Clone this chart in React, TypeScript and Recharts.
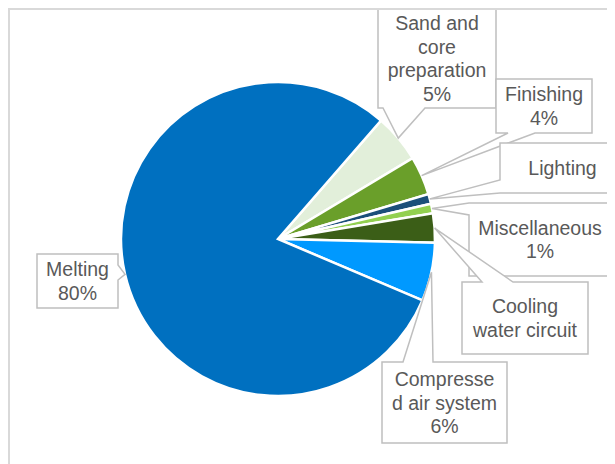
import React from 'react';
import { PieChart, Pie, Cell } from 'recharts';

// Energy use by process area (share of total, %)
const categories = [
  'Sand and core preparation',
  'Finishing',
  'Lighting',
  'Miscellaneous',
  'Cooling water circuit',
  'Compressed air system',
  'Melting',
];
const shares = [5, 4, 1, 1, 3, 6, 80];
const sliceColors = ['#E2EFDA', '#6A9F2A', '#1B4F7A', '#92D050', '#3B5E17', '#0099FF', '#0070C0'];

// wrapped label lines, and whether the percentage is shown underneath
const labelLines = [
  ['Sand and', 'core', 'preparation'],
  ['Finishing'],
  ['Lighting'],
  ['Miscellaneous'],
  ['Cooling', 'water circuit'],
  ['Compresse', 'd air system'],
  ['Melting'],
];
const showPercent = [true, true, false, true, false, true, true];

const data = categories.map((name, i) => ({ name, value: shares[i] }));

type Side = 'top' | 'bottom' | 'left' | 'right';
interface Callout {
  x: number;
  y: number;
  w: number;
  h: number;
  side: Side;
  a: number; // wedge base start along the side
  b: number; // wedge base end along the side
}

// callout box placement, in chart pixels
const callouts: Callout[] = [
  { x: 368, y: -1, w: 118, h: 99, side: 'bottom', a: 373, b: 415 },
  { x: 486, y: 69, w: 96, h: 54, side: 'bottom', a: 498, b: 525 },
  { x: 490, y: 133, w: 125, h: 50, side: 'left', a: 170, b: 183 },
  { x: 459, y: 193, w: 142, h: 73, side: 'left', a: 193, b: 205 },
  { x: 452, y: 272, w: 126, h: 72, side: 'top', a: 472, b: 503 },
  { x: 372, y: 352, w: 125, h: 81, side: 'top', a: 393, b: 423 },
  { x: 27, y: 244, w: 81, h: 54, side: 'right', a: 255, b: 270 },
];

const RAD = Math.PI / 180;
const FONT = '"Liberation Sans", Arial, sans-serif';
const LINE_H = 23.5;

function calloutPath(c: Callout, tx: number, ty: number) {
  const { x, y, w, h, side, a, b } = c;
  const r = x + w;
  const btm = y + h;
  const pts: [number, number][] = [[x, y]];
  if (side === 'top') pts.push([a, y], [tx, ty], [b, y]);
  pts.push([r, y]);
  if (side === 'right') pts.push([r, a], [tx, ty], [r, b]);
  pts.push([r, btm]);
  if (side === 'bottom') pts.push([b, btm], [tx, ty], [a, btm]);
  pts.push([x, btm]);
  if (side === 'left') pts.push([x, b], [tx, ty], [x, a]);
  return 'M' + pts.map((p) => p.join(',')).join('L') + 'Z';
}

const renderCallout = (props: any) => {
  const { cx, cy, midAngle, outerRadius, index, value } = props;
  const c = callouts[index];
  const tx = cx + outerRadius * Math.cos(-midAngle * RAD);
  const ty = cy + outerRadius * Math.sin(-midAngle * RAD);
  const lines = showPercent[index] ? [...labelLines[index], `${value}%`] : labelLines[index];
  const midY = c.y + c.h / 2;
  const firstY = midY - ((lines.length - 1) * LINE_H) / 2;
  return (
    <g key={`callout-${index}`}>
      <path d={calloutPath(c, tx, ty)} fill="#fff" stroke="#BFBFBF" strokeWidth={1.5} />
      <text
        x={c.x + c.w / 2}
        y={firstY}
        textAnchor="middle"
        dominantBaseline="central"
        fill="#595959"
        fontSize={19.5}
        fontFamily={FONT}
      >
        {lines.map((ln, i) => (
          <tspan key={i} x={c.x + c.w / 2} y={firstY + i * LINE_H}>
            {ln}
          </tspan>
        ))}
      </text>
    </g>
  );
};

export default function App() {
  return (
    <div
      style={{
        width: 607,
        height: 456,
        borderTop: '2px solid #D9D9D9',
        borderLeft: '2px solid #D9D9D9',
        boxSizing: 'border-box',
        background: '#fff',
      }}
    >
      <PieChart
        width={605}
        height={454}
        margin={{ top: 0, right: 0, bottom: 0, left: 0 }}
        style={{ overflow: 'visible' }}
      >
        <Pie
          data={data}
          dataKey="value"
          nameKey="name"
          cx={268}
          cy={229}
          outerRadius={157}
          startAngle={49}
          endAngle={-311}
          stroke="#fff"
          strokeWidth={2.5}
          label={renderCallout}
          labelLine={false}
          isAnimationActive={false}
        >
          {data.map((d, i) => (
            <Cell key={d.name} fill={sliceColors[i]} />
          ))}
        </Pie>
      </PieChart>
    </div>
  );
}
